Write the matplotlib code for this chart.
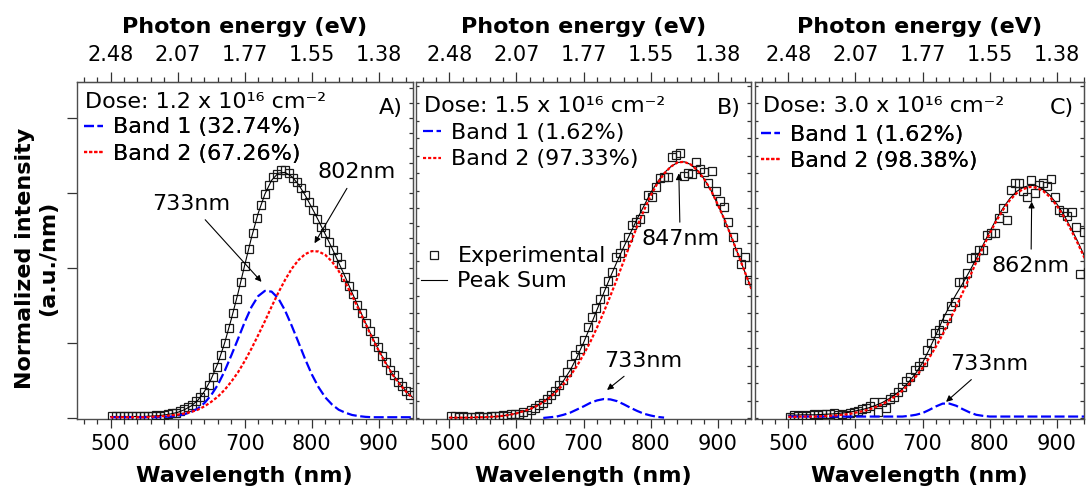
import numpy as np
import matplotlib.pyplot as plt
from matplotlib.ticker import MultipleLocator
from matplotlib.lines import Line2D

nan = np.nan

# wavelength grids (nm)
fit_nm = np.arange(500, 951, 10)
exp_nm = np.arange(502, 947, 6)

# ---- panel A : 1.2e16 cm-2 ----
exp_a = [0.005, 0.005, 0.006, 0.004, 0.005, 0.006, 0.005, 0.004, 0.006, 0.006,
         0.005, 0.007, 0.006, 0.008, 0.010, 0.012, 0.014, 0.018, 0.023, 0.028,
         0.035, 0.044, 0.056, 0.070, 0.088, 0.110, 0.137, 0.168, 0.201, 0.240,
         0.279, 0.318, 0.362, 0.406, 0.450, 0.494, 0.534, 0.567, 0.598, 0.622,
         0.642, 0.651, 0.660, 0.662, 0.654, 0.640, 0.628, 0.612, 0.595, 0.575,
         0.555, 0.530, 0.508, 0.494, 0.468, 0.447, 0.428, 0.410, 0.376, 0.353,
         0.330, 0.300, 0.279, 0.254, 0.232, 0.206, 0.190, 0.166, 0.150, 0.128,
         0.114, 0.096, 0.086, 0.072, 0.062]
band1_a = [0.002, 0.002, 0.002, 0.002, 0.002, 0.002, 0.002, 0.002, 0.003, 0.004,
           0.006, 0.010, 0.016, 0.025, 0.040, 0.061, 0.089, 0.125, 0.167, 0.211,
           0.256, 0.296, 0.325, 0.339, 0.337, 0.319, 0.287, 0.246, 0.202, 0.157,
           0.116, 0.082, 0.055, 0.036, 0.022, 0.014, 0.008, 0.005, 0.003, 0.002,
           0.002, 0.002, 0.002, 0.002, 0.002, 0.002]
band2_a = [0.002, 0.002, 0.002, 0.002, 0.002, 0.002, 0.003, 0.004, 0.005, 0.007,
           0.009, 0.012, 0.016, 0.022, 0.031, 0.043, 0.057, 0.075, 0.097, 0.122,
           0.152, 0.185, 0.221, 0.258, 0.297, 0.334, 0.368, 0.398, 0.421, 0.437,
           0.445, 0.444, 0.435, 0.417, 0.392, 0.361, 0.326, 0.289, 0.251, 0.213,
           0.178, 0.146, 0.116, 0.092, 0.071, 0.053]

# ---- panel B : 1.5e16 cm-2 ----
exp_b = [0.006, 0.008, 0.004, 0.006, 0.003, 0.005, 0.004, 0.006, 0.005, 0.004,
         0.008, 0.007, 0.006, 0.009, 0.008, 0.011, 0.012, 0.013, 0.019, 0.010,
         0.024, 0.029, 0.037, 0.044, 0.055, 0.066, 0.078, 0.095, 0.109, 0.133,
         0.155, 0.180, 0.198, 0.224, 0.262, 0.290, 0.314, 0.342, 0.365, 0.392,
         0.419, 0.462, 0.471, 0.495, 0.519, 0.552, 0.560, 0.569, 0.600, 0.638,
         0.633, 0.662, 0.686, 0.689, 0.690, 0.746, 0.752, 0.759, 0.692, 0.700,
         0.697, 0.733, 0.712, 0.705, 0.673, 0.707, 0.650, 0.622, 0.605, 0.560,
         0.519, 0.475, 0.440, 0.462, 0.395]
band1_b = [nan] * 14 + [0.001, 0.003, 0.005, 0.010, 0.016, 0.025, 0.034, 0.044, 0.051, 0.055,
                        0.054, 0.049, 0.040, 0.030, 0.021, 0.013, 0.008, 0.004, 0.002] + [nan] * 13
band2_b = [0.002, 0.002, 0.002, 0.002, 0.003, 0.003, 0.004, 0.005, 0.007, 0.010,
           0.014, 0.020, 0.026, 0.035, 0.046, 0.060, 0.077, 0.097, 0.121, 0.149,
           0.182, 0.218, 0.259, 0.303, 0.350, 0.399, 0.450, 0.500, 0.549, 0.594,
           0.636, 0.671, 0.699, 0.719, 0.731, 0.733, 0.725, 0.708, 0.683, 0.651,
           0.611, 0.568, 0.520, 0.470, 0.420, 0.370]

# ---- panel C : 3.0e16 cm-2 ----
exp_c = [0.004, 0.009, 0.006, 0.010, 0.008, 0.009, 0.012, 0.010, 0.013, 0.011,
         0.012, 0.014, 0.010, 0.013, 0.009, 0.016, 0.019, 0.020, 0.027, 0.029,
         0.036, 0.046, 0.018, 0.048, 0.030, 0.055, 0.062, 0.076, 0.090, 0.108,
         0.118, 0.138, 0.150, 0.162, 0.195, 0.215, 0.243, 0.252, 0.270, 0.286,
         0.321, 0.333, 0.390, 0.390, 0.414, 0.457, 0.462, 0.481, 0.481, 0.524,
         0.529, 0.529, 0.571, 0.600, 0.567, 0.652, 0.671, 0.671, 0.650, 0.631,
         0.681, 0.645, 0.667, 0.671, 0.664, 0.683, 0.633, 0.595, 0.590, 0.578,
         0.589, 0.547, 0.411, 0.533, 0.419]
band1_c = [0.005] * 18 + [0.007, 0.010, 0.015, 0.024, 0.034, 0.042, 0.042, 0.036, 0.026, 0.017,
                          0.010, 0.007] + [0.005] * 16
band2_c = [0.004, 0.004, 0.005, 0.005, 0.005, 0.006, 0.007, 0.008, 0.010, 0.012,
           0.016, 0.020, 0.025, 0.032, 0.040, 0.051, 0.064, 0.079, 0.098, 0.119,
           0.144, 0.173, 0.205, 0.240, 0.278, 0.318, 0.360, 0.403, 0.446, 0.488,
           0.528, 0.564, 0.596, 0.623, 0.643, 0.655, 0.661, 0.659, 0.649, 0.632,
           0.608, 0.578, 0.543, 0.505, 0.464, 0.421]

tick_nm = [500, 600, 700, 800, 900]
ev_labels = ["2.48", "2.07", "1.77", "1.55", "1.38"]
doses = ["1.2", "1.5", "3.0"]
band1_pct = ["32.74%", "1.62%", "1.62%"]
band2_pct = ["67.26%", "97.33%", "98.38%"]
tags = ["A)", "B)", "C)"]

FS = 16
plt.rcParams['font.family'] = 'DejaVu Sans'
fig = plt.figure(figsize=(10.86, 4.87), dpi=100)

W, H = 1086.0, 487.0
# pixel frame of each panel: left edge, width, right x limit
lefts = [77, 415.8, 754.8]
widths = [335.5, 335.5, 329.2]
xmax = [950, 950, 940.6]
ylims = [(-0.0027, 0.896), (-0.002, 0.961), (-0.002, 0.961)]
dose_y = [0.922, 0.912, 0.912]
leg_y = [0.895, 0.878, 0.873]

panels = [(exp_a, band1_a, band2_a), (exp_b, band1_b, band2_b), (exp_c, band1_c, band2_c)]
notes = [
    [("733nm", (619.6, 0.571), (725, 0.363)), ("802nm", (866.7, 0.656), (804, 0.466))],
    [("847nm", (844, 0.512), (842, 0.700)), ("733nm", (789, 0.164), (735, 0.081))],
    [("862nm", (861.6, 0.435), (862.6, 0.619)), ("733nm", (799, 0.155), (735, 0.047))],
]

for i, (ex, b1, b2) in enumerate(panels):
    ax = fig.add_axes([lefts[i] / W, (H - 419) / H, widths[i] / W, 337 / H])
    b1 = np.array(b1, dtype=float)
    b2 = np.array(b2, dtype=float)
    total = b2 + np.nan_to_num(b1)

    ax.plot(exp_nm, ex, 's', ms=6.3, mfc='none', mec='0.1', mew=0.9, zorder=3)
    ax.plot(fit_nm, total, '-', color='black', lw=0.8, zorder=4)
    l1, = ax.plot(fit_nm, b1, color='blue', lw=1.6, ls=(0, (4.5, 1.6)), zorder=5)
    l2, = ax.plot(fit_nm, b2, color='red', lw=1.6, ls=(0, (1.4, 0.9)), zorder=5)

    ax.set_xlim(450, xmax[i])
    ax.set_ylim(*ylims[i])
    for s in ax.spines.values():
        s.set_color('0.3')
        s.set_linewidth(1.0)

    ax.set_xticks(tick_nm)
    ax.xaxis.set_minor_locator(MultipleLocator(20))
    ax.tick_params(axis='x', which='major', direction='out', length=6.5, width=0.9,
                   labelsize=15, pad=4, color='0.2')
    ax.tick_params(axis='x', which='minor', direction='out', length=3.6, width=0.9, color='0.2')
    ax.set_xlabel("Wavelength (nm)", fontsize=FS, fontweight='bold', labelpad=9)

    top = ax.secondary_xaxis('top')
    top.set_xticks(tick_nm, labels=ev_labels)
    top.xaxis.set_minor_locator(MultipleLocator(20))
    top.tick_params(axis='x', which='major', direction='out', length=7, width=0.9,
                    labelsize=15, pad=5, color='0.2')
    top.tick_params(axis='x', which='minor', direction='out', length=3.6, width=0.9, color='0.2')
    top.set_xlabel("Photon energy (eV)", fontsize=FS, fontweight='bold', labelpad=9)

    if i == 0:
        ax.yaxis.set_major_locator(MultipleLocator(0.2))
        ax.tick_params(axis='y', which='major', direction='out', length=7, width=0.9,
                       labelleft=False, color='0.2')
        rstep = 0.04
    else:
        ax.yaxis.set_major_locator(MultipleLocator(0.05))
        ax.tick_params(axis='y', which='major', direction='in', length=2.5, width=0.9,
                       labelleft=False, color='0.2')
        rstep = 0.05
    right = ax.secondary_yaxis('right')
    right.yaxis.set_major_locator(MultipleLocator(rstep))
    right.tick_params(axis='y', direction='in', length=3, width=0.9, labelright=False, color='0.2')
    right.spines['right'].set_color('0.3')

    ax.text(0.025, dose_y[i], f"Dose: {doses[i]} x 10\u00b9\u2076 cm\u207b\u00b2",
            transform=ax.transAxes, fontsize=FS, va='baseline', ha='left')
    ax.text(0.97, 0.922, tags[i], transform=ax.transAxes, fontsize=FS,
            va='center', ha='right')

    leg = ax.legend([l1, l2], [f"Band 1 ({band1_pct[i]})", f"Band 2 ({band2_pct[i]})"],
                    loc='upper left', bbox_to_anchor=(0.02, leg_y[i]), frameon=False,
                    fontsize=FS, handlelength=0.85, handletextpad=0.45,
                    labelspacing=0.28, borderpad=0, borderaxespad=0)
    ax.add_artist(leg)

    if i == 1:
        h_exp = Line2D([], [], ls='none', marker='s', ms=6.3, mfc='none', mec='0.1', mew=0.9)
        h_sum = Line2D([], [], color='black', lw=0.8)
        ax.legend([h_exp, h_sum], ["Experimental", "Peak Sum"], loc='upper left',
                  bbox_to_anchor=(0.015, 0.512), frameon=False, fontsize=FS,
                  handlelength=1.2, handletextpad=0.45, labelspacing=0.22,
                  borderpad=0, borderaxespad=0, numpoints=1)

    for txt, txy, axy in notes[i]:
        ax.annotate(txt, xy=axy, xytext=txy, fontsize=FS, ha='center', va='center',
                    arrowprops=dict(arrowstyle='-|>', color='black', lw=0.8,
                                    mutation_scale=9, shrinkA=3, shrinkB=0), zorder=6)

fig.text(0.034, 0.47, "Normalized intensity\n(a.u./nm)", rotation=90, fontsize=FS,
         fontweight='bold', ha='center', va='center', multialignment='center')

fig.savefig("out.png", dpi=100)
